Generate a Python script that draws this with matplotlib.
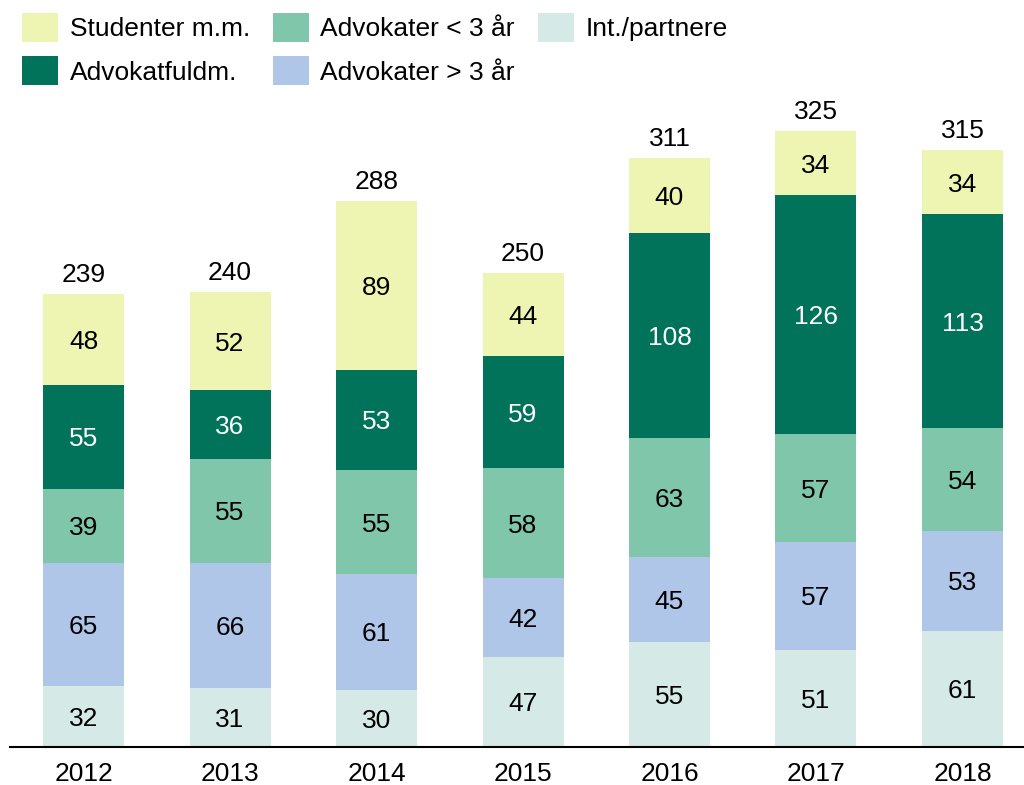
import matplotlib
matplotlib.use("Agg")
import matplotlib.pyplot as plt
import numpy as np

plt.rcParams['font.family'] = ['Liberation Sans', 'DejaVu Sans']

years = ["2012", "2013", "2014", "2015", "2016", "2017", "2018"]
int_partnere = [32, 31, 30, 47, 55, 51, 61]
adv_over3 = [65, 66, 61, 42, 45, 57, 53]
adv_under3 = [39, 55, 55, 58, 63, 57, 54]
advokatfuldm = [55, 36, 53, 59, 108, 126, 113]
studenter = [48, 52, 89, 44, 40, 34, 34]

series = [
    ("Int./partnere", int_partnere, "#d5eae6", "black"),
    ("Advokater > 3 år", adv_over3, "#afc6e8", "black"),
    ("Advokater < 3 år", adv_under3, "#7fc6aa", "black"),
    ("Advokatfuldm.", advokatfuldm, "#00735a", "white"),
    ("Studenter m.m.", studenter, "#eef5b2", "black"),
]

fig = plt.figure(figsize=(10.24, 7.85), dpi=100)
ax = fig.add_axes([10/1024, 38.5/785, 1 - 10/1024, (746.5-100)/785])

x = np.arange(len(years))
bottom = np.zeros(len(years))
handles = {}
fs = 19
for name, vals, col, tcol in series:
    vals = np.array(vals)
    bars = ax.bar(x, vals, 0.553, bottom=bottom, color=col, label=name)
    handles[name] = bars
    for xi, b, v in zip(x, bottom, vals):
        ax.text(xi, b + v/2, str(v), ha="center", va="center_baseline", fontsize=fs, color=tcol)
    bottom = bottom + vals

for xi, t in zip(x, bottom):
    ax.annotate(str(int(t)), (xi, t), xytext=(0, 5), textcoords="offset points",
                ha="center", va="bottom", fontsize=fs)

ax.set_xlim(-0.502, 6.42)
ax.set_ylim(0, 341.4)
ax.set_xticks(x)
ax.set_xticklabels(years, fontsize=fs)
ax.tick_params(axis="x", length=0, pad=11)
ax.set_yticks([])
for s in ["left", "right", "top"]:
    ax.spines[s].set_visible(False)
ax.spines["bottom"].set_linewidth(1.5)

order = ["Studenter m.m.", "Advokatfuldm.", "Advokater < 3 år", "Advokater > 3 år", "Int./partnere"]
fig.legend([handles[n] for n in order], order, ncol=3, loc="upper left",
           bbox_to_anchor=(22/1024, 1 - 13/785), frameon=False, fontsize=fs,
           handlelength=1.36, handleheight=1.3, handletextpad=0.45,
           labelspacing=0.55, columnspacing=0.86, borderaxespad=0, borderpad=0)

fig.savefig("out.png", dpi=100)
